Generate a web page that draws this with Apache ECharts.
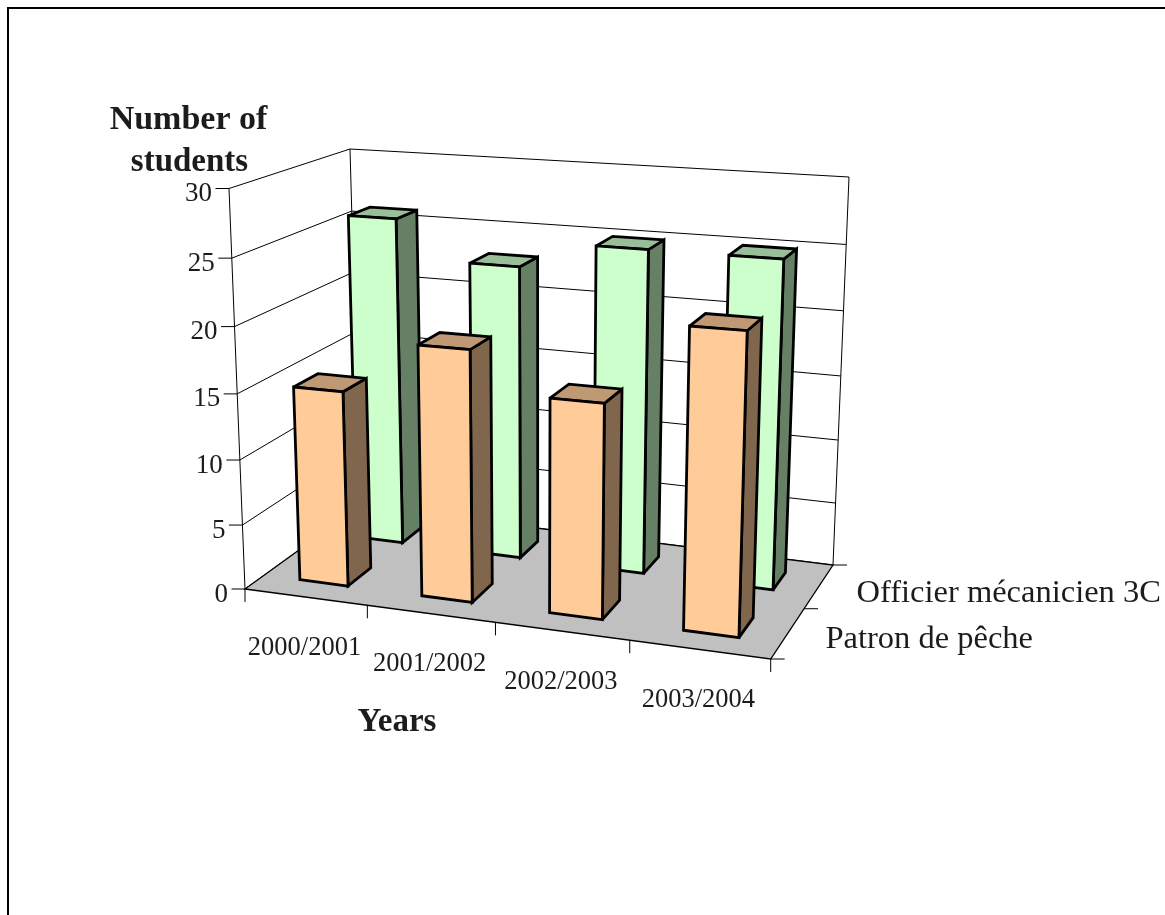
<!DOCTYPE html>
<html>
<head>
<meta charset="utf-8">
<title>Number of students by year</title>
<style>html,body{margin:0;padding:0;background:#fff}#chart{width:1165px;height:915px}</style>
<script src="https://cdn.jsdelivr.net/npm/echarts@6/dist/echarts.min.js"></script>
</head>
<body>
<div id="chart"></div>
<script>
// Chart values
const categories = ['2000/2001', '2001/2002', '2002/2003', '2003/2004'];
const patronValues = [15, 19, 16, 22];
const officierValues = [26, 23, 25, 25];
const seriesNames = ['Patron de pêche', 'Officier mécanicien 3C'];
const valueTicks = [0, 5, 10, 15, 20, 25, 30];
const valueTitle = ['Number of', 'students'];
const categoryTitle = 'Years';

// Screen position of the eight corners of the 3D box
const box = {
  floor: { fl: [245, 589], fr: [770.7, 659], bl: [360, 506], br: [833, 565] },
  roof: { fl: [229, 188.5], fr: [784, 224], bl: [350, 149], br: [849, 177] }
};
// Foreshortening along each of the three box axes
const warp = (t, p) => t * (1 + p) / (1 + p * t);
const lerp = (a, b, t) => [a[0] + (b[0] - a[0]) * t, a[1] + (b[1] - a[1]) * t];
function project(u, v, w) {
  const U = warp(u, -0.09), V = warp(v, 0.15), W = warp(w, -0.05);
  const bottom = lerp(lerp(box.floor.fl, box.floor.fr, U), lerp(box.floor.bl, box.floor.br, U), V);
  const top = lerp(lerp(box.roof.fl, box.roof.fr, U), lerp(box.roof.bl, box.roof.br, U), V);
  return lerp(bottom, top, W);
}

const FONT = '"Liberation Serif", serif';
const INK = '#000';
const TEXT = '#1c1c1c';

function seg(a, b, width) {
  return {
    type: 'line',
    shape: { x1: a[0], y1: a[1], x2: b[0], y2: b[1] },
    style: { stroke: INK, lineWidth: width || 1, fill: null }
  };
}
function label(text, x, y, size, align, weight) {
  return {
    type: 'text',
    style: {
      text, x, y, fill: TEXT, align: align || 'center', verticalAlign: 'middle',
      font: (weight || 'normal') + ' ' + size + 'px ' + FONT
    }
  };
}
function toUnit(cs, pt) {
  return [(pt[0] - cs.x) / cs.width, (cs.y + cs.height - pt[1]) / cs.height];
}

// Back wall and left wall: one gridline pair, tick and label per value tick
function renderWalls(params, api) {
  const cs = params.coordSys;
  const value = api.value(1);
  const w = toUnit(cs, api.coord([0, value]))[1];
  const front = project(0, 0, w), back = project(0, 1, w), right = project(1, 1, w);
  const children = [
    seg(front, back), seg(back, right),
    seg([front[0] - 13.5, front[1]], front),
    label(String(value), front[0] - 17, front[1] + 5.5, 27, 'right')
  ];
  if (value === valueTicks[valueTicks.length - 1]) {
    children.push(seg(project(0, 0, 0), front));
    children.push(seg(project(0, 1, 0), back));
    children.push(seg(project(1, 1, 0), right));
  }
  return { type: 'group', children };
}

function renderFloor() {
  const pts = [project(0, 0, 0), project(1, 0, 0), project(1, 1, 0), project(0, 1, 0)];
  return {
    type: 'polygon',
    shape: { points: pts },
    style: { fill: '#C0C0C0', stroke: INK, lineWidth: 1.3 }
  };
}

// Category ticks below the front floor edge, with their year labels
function renderCategoryTicks(params, api) {
  const cs = params.coordSys;
  const c = api.coord([api.value(0), 0]);
  const band = api.size([1, 0])[0];
  const uMid = toUnit(cs, c)[0];
  const uEnd = toUnit(cs, [c[0] + band / 2, c[1]])[0];
  const mid = project(uMid, 0, 0), end = project(uEnd, 0, 0);
  const children = [
    seg(end, [end[0], end[1] + 13]),
    label(categories[api.value(0)], mid[0] - 1, mid[1] + 50.5, 26.5)
  ];
  if (api.value(0) === 0) {
    const start = project(0, 0, 0);
    children.push(seg(start, [start[0], start[1] + 13]));
  }
  return { type: 'group', children };
}

// Series ticks and names along the right floor edge
function renderDepthTicks(params, api) {
  const slot = api.value(0);
  const mid = project(1, (slot + 0.5) / seriesNames.length, 0);
  const end = project(1, (slot + 1) / seriesNames.length, 0);
  const children = [
    seg(end, [end[0] + 14, end[1]]),
    label(seriesNames[slot], mid[0] + 37.5, mid[1] + 7, 32.5, 'left')
  ];
  if (slot === 0) {
    const start = project(1, 0, 0);
    children.push(seg(start, [start[0] + 14, start[1]]));
  }
  return { type: 'group', children };
}

// One 3D column: front, right side and top faces
function columnRenderer(slot, faces) {
  const vA = (slot + 0.3) / seriesNames.length, vB = (slot + 0.7) / seriesNames.length;
  return function (params, api) {
    const cs = params.coordSys;
    const c = api.coord([api.value(0), api.value(1)]);
    const band = api.size([1, 0])[0];
    const uA = toUnit(cs, [c[0] - band * 0.2, c[1]])[0];
    const uB = toUnit(cs, [c[0] + band * 0.2, c[1]])[0];
    const w = toUnit(cs, c)[1];
    const face = (points, fill) => ({
      type: 'polygon',
      shape: { points },
      style: { fill, stroke: INK, lineWidth: 2.8, lineJoin: 'miter', miterLimit: 2.5 }
    });
    return {
      type: 'group',
      children: [
        face([project(uB, vA, 0), project(uB, vB, 0), project(uB, vB, w), project(uB, vA, w)], faces.side),
        face([project(uA, vA, w), project(uB, vA, w), project(uB, vB, w), project(uA, vB, w)], faces.top),
        face([project(uA, vA, 0), project(uB, vA, 0), project(uB, vA, w), project(uA, vA, w)], faces.front)
      ]
    };
  };
}

const customBase = { type: 'custom', coordinateSystem: 'cartesian2d', silent: true, animation: false };

const chart = echarts.init(document.getElementById('chart'), null, { renderer: 'canvas' });
chart.setOption({
  backgroundColor: '#fff',
  animation: false,
  tooltip: { show: false },
  grid: { left: 200, top: 150, width: 600, height: 400 },
  xAxis: { type: 'category', data: categories, show: false },
  yAxis: { type: 'value', min: 0, max: 30, interval: 5, show: false },
  graphic: [
    { type: 'rect', silent: true, shape: { x: 8, y: 8, width: 1400, height: 1400 },
      style: { fill: null, stroke: INK, lineWidth: 2 } },
    { type: 'text', silent: true, x: 188.5, y: 120.5, style: { text: valueTitle[0], align: 'center', verticalAlign: 'middle', fill: TEXT, font: 'bold 34px ' + FONT } },
    { type: 'text', silent: true, x: 189.5, y: 162, style: { text: valueTitle[1], align: 'center', verticalAlign: 'middle', fill: TEXT, font: 'bold 33px ' + FONT } },
    { type: 'text', silent: true, x: 397, y: 722, style: { text: categoryTitle, align: 'center', verticalAlign: 'middle', fill: TEXT, font: 'bold 33px ' + FONT } }
  ],
  series: [
    Object.assign({}, customBase, { name: 'walls', data: valueTicks.map(t => [0, t]), renderItem: renderWalls }),
    Object.assign({}, customBase, { name: 'floor', data: [[0, 0]], renderItem: renderFloor }),
    Object.assign({}, customBase, { name: 'years', data: categories.map((c, i) => [i, 0]), renderItem: renderCategoryTicks }),
    Object.assign({}, customBase, { name: 'depth', data: seriesNames.map((s, i) => [i, 0]), renderItem: renderDepthTicks }),
    Object.assign({}, customBase, {
      name: seriesNames[1], data: officierValues.map((v, i) => [i, v]),
      renderItem: columnRenderer(1, { front: '#CCFFCC', side: '#668066', top: '#99BF99' })
    }),
    Object.assign({}, customBase, {
      name: seriesNames[0], data: patronValues.map((v, i) => [i, v]),
      renderItem: columnRenderer(0, { front: '#FFCC99', side: '#80664D', top: '#BF9973' })
    })
  ]
});
</script>
</body>
</html>
